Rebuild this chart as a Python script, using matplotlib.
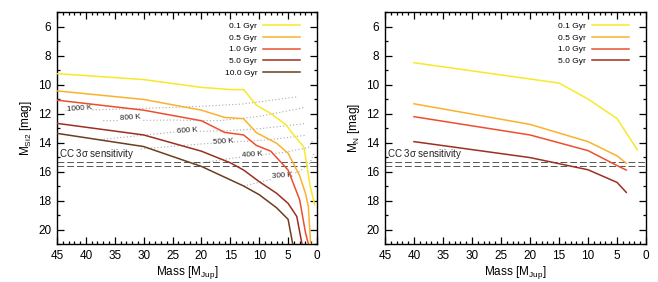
import matplotlib
matplotlib.use("Agg")
import matplotlib.pyplot as plt
from matplotlib.ticker import MultipleLocator

plt.rcParams['font.family'] = ['Liberation Sans', 'DejaVu Sans']
plt.rcParams['mathtext.default'] = 'regular'

# ---- data: left panel (M_Si2) ----
ages_left = ["0.1 Gyr", "0.5 Gyr", "1.0 Gyr", "5.0 Gyr", "10.0 Gyr"]
colors = ["#f7e92a", "#fbb12e", "#ec4f2f", "#9c2f22", "#6e3d1e"]

si2_m_01 = [45, 30, 20, 15, 12.7, 10.5, 8, 5.3, 4.5, 2.3, 1.9, 1.2, 0.4]
si2_v_01 = [9.25, 9.66, 10.2, 10.35, 10.35, 11.42, 12.0, 12.8, 13.25, 14.3, 15.2, 17.0, 18.3]
si2_m_05 = [45, 30, 20, 16, 12.7, 10.5, 7, 5, 3, 2, 1.5, 1.1]
si2_v_05 = [10.44, 11.03, 11.77, 12.27, 12.36, 13.32, 14.05, 14.74, 16.3, 17.5, 18.4, 21.0]
si2_m_10 = [45, 30, 20, 16, 12.7, 10.5, 8, 5, 3, 2, 1.5]
si2_v_10 = [11.08, 11.77, 12.5, 13.3, 13.48, 14.2, 14.6, 15.9, 17.95, 20.2, 21.0]
si2_m_50 = [45, 30, 20, 15, 12.7, 10, 7, 5, 3.5, 2.6]
si2_v_50 = [12.68, 13.48, 14.6, 15.4, 15.9, 16.7, 17.5, 18.2, 19.1, 21.0]
si2_m_100 = [45, 30, 20, 12.7, 10, 7, 5, 4.2]
si2_v_100 = [13.37, 14.28, 15.65, 17.0, 17.6, 18.5, 19.3, 21.0]

# isotherms (Teff) in left panel
iso_labels = ["1000 K", "800 K", "600 K", "500 K", "400 K", "300 K"]
iso_m_1000 = [43.5, 30, 20, 13, 3.4]
iso_v_1000 = [11.8, 11.65, 11.5, 11.35, 10.85]
iso_m_800 = [37, 25, 17, 10, 2.3]
iso_v_800 = [12.5, 12.45, 12.5, 12.2, 11.6]
iso_m_600 = [37.5, 24, 16, 10, 2.0]
iso_v_600 = [13.8, 13.25, 13.2, 13.05, 12.7]
iso_m_500 = [30.5, 20, 14, 8, 2.0]
iso_v_500 = [14.45, 14.1, 13.95, 13.8, 13.5]
iso_m_400 = [21.5, 15, 11, 6, 1.5, 0.8]
iso_v_400 = [15.5, 15.1, 14.9, 14.7, 14.35, 13.9]
iso_m_300 = [12.7, 9, 6, 3, 1.2, 0.6]
iso_v_300 = [17.0, 16.65, 16.35, 16.0, 15.4, 14.8]
iso_lab_x = [41.2, 32.4, 22.4, 16.2, 11.2, 6.0]
iso_lab_y = [11.65, 12.3, 13.2, 13.95, 14.85, 16.3]

# ---- data: right panel (M_N) ----
ages_right = ["0.1 Gyr", "0.5 Gyr", "1.0 Gyr", "5.0 Gyr"]
n_m_01 = [40, 15, 10, 5, 1.5]
n_v_01 = [8.5, 9.9, 11.0, 12.35, 14.5]
n_m_05 = [40, 20, 10, 5, 3.4]
n_v_05 = [11.33, 12.75, 13.94, 14.92, 15.43]
n_m_10 = [40, 20, 10, 5, 3.4]
n_v_10 = [12.22, 13.48, 14.56, 15.59, 15.9]
n_m_50 = [40, 20, 10, 5, 3.4]
n_v_50 = [13.94, 15.04, 15.88, 16.75, 17.44]

sens_levels = [15.33, 15.61]
sens_label = "CC 3$\\sigma$ sensitivity"

fig = plt.figure(figsize=(6.58, 2.82), dpi=100)
axL = fig.add_axes([57/658, 1-244/282, 260/658, 232/282])
axR = fig.add_axes([385/658, 1-244/282, 261/658, 232/282])

left_series = [(si2_m_01, si2_v_01), (si2_m_05, si2_v_05), (si2_m_10, si2_v_10),
               (si2_m_50, si2_v_50), (si2_m_100, si2_v_100)]
right_series = [(n_m_01, n_v_01), (n_m_05, n_v_05), (n_m_10, n_v_10), (n_m_50, n_v_50)]

iso_series = [(iso_m_1000, iso_v_1000), (iso_m_800, iso_v_800), (iso_m_600, iso_v_600),
              (iso_m_500, iso_v_500), (iso_m_400, iso_v_400), (iso_m_300, iso_v_300)]
for (m, v) in iso_series:
    axL.plot(m, v, color="#aaaaaa", lw=0.8, ls=(0, (1, 2)), zorder=1)
for lab, x, y in zip(iso_labels, iso_lab_x, iso_lab_y):
    axL.text(x, y, lab, fontsize=5.8, ha="center", va="center", color="#222222",
             rotation=4, zorder=2,
             bbox=dict(facecolor="white", edgecolor="none", pad=0.3))

for (m, v), lab, c in zip(left_series, ages_left, colors):
    axL.plot(m, v, color=c, lw=1.1, label=lab, zorder=3)
for (m, v), lab, c in zip(right_series, ages_right, colors):
    axR.plot(m, v, color=c, lw=1.1, label=lab, zorder=3)

for ax, ylab in [(axL, "M$_{Si2}$ [mag]"), (axR, "M$_{N}$ [mag]")]:
    for lv in sens_levels:
        ax.axhline(lv, color="#555555", lw=0.7, ls=(0, (7, 3)), zorder=2)
    ax.text(44.6, sens_levels[0] - 0.05, sens_label, fontsize=7, ha="left",
            va="bottom", color="#222222")
    ax.set_xlim(45, 0)
    ax.set_ylim(21, 5)
    ax.xaxis.set_major_locator(MultipleLocator(5))
    ax.xaxis.set_minor_locator(MultipleLocator(1))
    ax.yaxis.set_major_locator(MultipleLocator(2))
    ax.yaxis.set_minor_locator(MultipleLocator(1))
    ax.tick_params(which="both", direction="in", top=True, right=True,
                   labelsize=8.5, width=0.9, pad=4)
    ax.tick_params(which="major", length=5)
    ax.tick_params(which="minor", length=2.5)
    ax.set_yticks([6, 8, 10, 12, 14, 16, 18, 20])
    for s in ax.spines.values():
        s.set_linewidth(1.0)
    ax.set_xlabel("Mass [M$_{Jup}$]", fontsize=8.5, labelpad=2)
    ax.set_ylabel(ylab, fontsize=8.5, labelpad=3)
    ax.legend(loc="upper right", bbox_to_anchor=(0.935, 0.957),
              markerfirst=False, frameon=False, fontsize=6,
              handlelength=4.45, labelspacing=0.48, borderaxespad=0,
              handletextpad=0.7, borderpad=0)

fig.savefig("out.png", dpi=100)
